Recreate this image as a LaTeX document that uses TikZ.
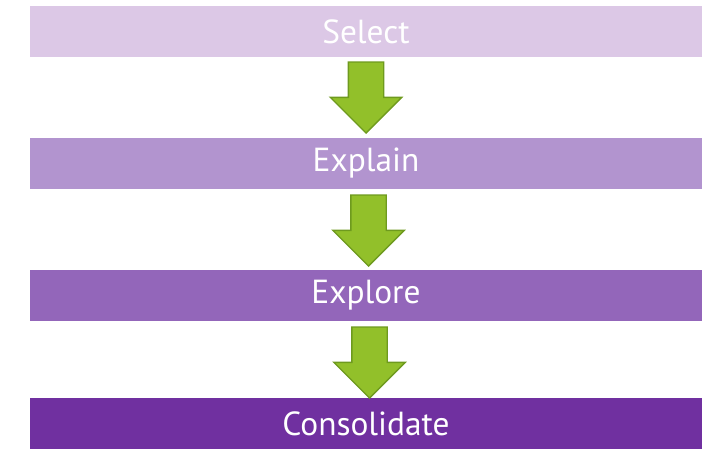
\documentclass[tikz,border=0pt]{standalone}
\usepackage{fontspec}
\setmainfont{PT Sans}
\usetikzlibrary{shapes.arrows}
\definecolor{stepA}{HTML}{DCC8E6}
\definecolor{stepB}{HTML}{B294CF}
\definecolor{stepC}{HTML}{9366BA}
\definecolor{stepD}{HTML}{7030A0}
\definecolor{arrowfill}{HTML}{92C02A}
\definecolor{arrowline}{HTML}{6E9A1E}
\begin{document}
\begin{tikzpicture}
                % Define styles for different elements
                \tikzstyle{stage} = [rectangle, minimum width=13.44cm, minimum height=1.02cm, inner sep=0pt, text=white, font=\fontsize{19}{22}\selectfont]
                \tikzstyle{down} = [single arrow, draw=arrowline, fill=arrowfill, line width=0.8pt, shape border rotate=270, minimum height=1.42cm, minimum width=1.40cm, single arrow head extend=0.36cm, single arrow tip angle=90, inner sep=0.34cm, anchor=tip]

                \useasboundingbox (0,0) rectangle (14.26,9);

                % Draw the stages
                \node[stage, fill=stepA] (select) at (7.32,8.36) {Select};
                \node[stage, fill=stepB] (explain) at (7.32,5.73) {Explain};
                \node[stage, fill=stepC] (explore) at (7.32,3.09) {Explore};
                \node[stage, fill=stepD] (consolidate) at (7.32,0.53) {Consolidate};

                % Arrows between the stages (tip resting on the next stage)
                \node[down] (arrow1) at (7.32,6.32) {};
                \node[down] (arrow2) at (7.37,3.66) {};
                \node[down] (arrow3) at (7.39,1.02) {};
            \end{tikzpicture}
\end{document}
